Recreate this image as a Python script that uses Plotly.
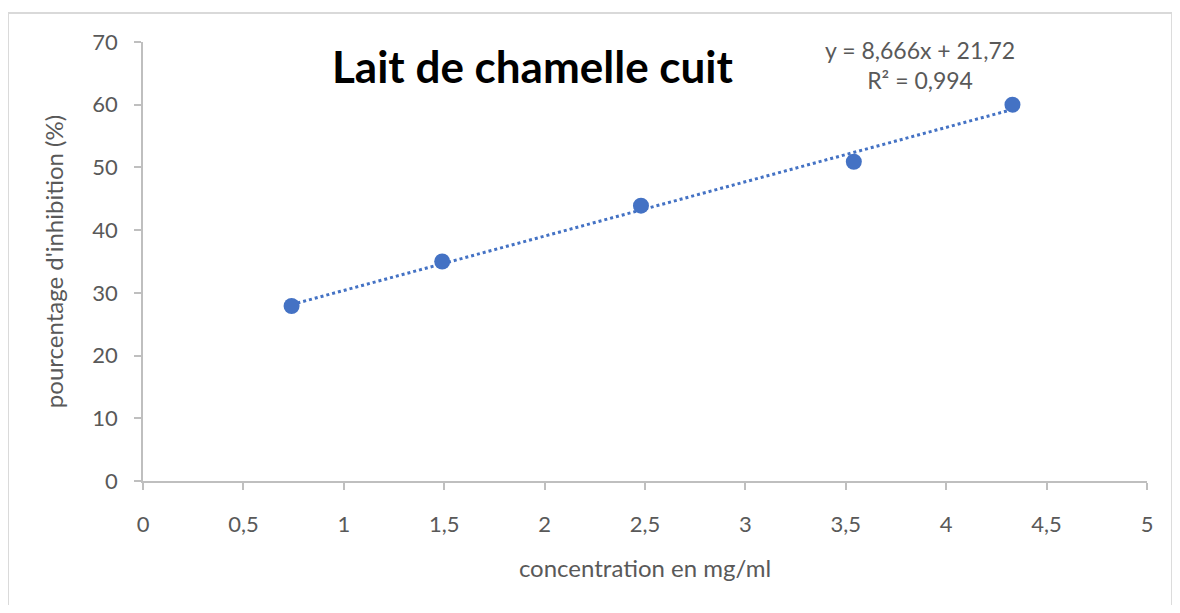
import plotly.graph_objects as go

# concentration (mg/ml) and inhibition (%)
concentration = [0.74, 1.49, 2.48, 3.54, 4.33]
inhibition = [27.9, 35.0, 43.9, 50.9, 60.0]

# linear trendline shown on the chart
slope = 8.666
intercept = 21.72
r2 = 0.994

x_ticks = [0, 0.5, 1, 1.5, 2, 2.5, 3, 3.5, 4, 4.5, 5]
x_tick_text = ["0", "0,5", "1", "1,5", "2", "2,5", "3", "3,5", "4", "4,5", "5"]
y_ticks = [0, 10, 20, 30, 40, 50, 60, 70]

blue = "#4472C4"
grey_text = "#595959"
axis_grey = "#BFBFBF"
font_family = "Lato, Open Sans, sans-serif"

trend_x = [min(concentration), max(concentration)]
trend_y = [slope * x + intercept for x in trend_x]

fig = go.Figure()
fig.add_trace(go.Scatter(
    x=trend_x, y=trend_y, mode="lines",
    line=dict(color=blue, width=3, dash="dot"),
    showlegend=False, hoverinfo="skip",
))
fig.add_trace(go.Scatter(
    x=concentration, y=inhibition, mode="markers",
    marker=dict(color=blue, size=16),
    showlegend=False,
))

fig.update_xaxes(
    range=[0, 5], tickvals=x_ticks, ticktext=x_tick_text,
    showline=True, linecolor=axis_grey, linewidth=1.5,
    ticks="outside", tickcolor=axis_grey, ticklen=7, tickwidth=1.5,
    ticklabelstandoff=16,
    showgrid=False, zeroline=False,
    tickfont=dict(size=22, color=grey_text, family=font_family),
    title=dict(text="concentration en mg/ml", standoff=24,
               font=dict(size=24, color=grey_text, family=font_family)),
)
fig.update_yaxes(
    range=[0, 70], tickvals=y_ticks,
    showline=True, linecolor=axis_grey, linewidth=1.5,
    ticks="outside", tickcolor=axis_grey, ticklen=7, tickwidth=1.5,
    ticklabelstandoff=12,
    showgrid=False, zeroline=False,
    tickfont=dict(size=22, color=grey_text, family=font_family),
    title=dict(text="pourcentage d'inhibition (%)", standoff=22,
               font=dict(size=24, color=grey_text, family=font_family)),
)

fig.add_annotation(
    x=0.388, y=66.2, xref="paper", yref="y",
    text="<b>Lait de chamelle cuit</b>", showarrow=False,
    font=dict(size=44, color="black", family=font_family),
)
fig.add_annotation(
    x=3.87, y=66.3, xref="x", yref="y",
    text=f"y = {slope:.3f}x + {intercept:.2f}".replace(".", ",")
         + "<br>R² = " + f"{r2:.3f}".replace(".", ","),
    showarrow=False, align="center",
    font=dict(size=23, color=grey_text, family=font_family),
)

# outer chart border
fig.add_shape(
    type="rect", xref="paper", yref="paper",
    x0=-0.1345, x1=1.025, y0=-0.40, y1=1.066,
    line=dict(color="#D9D9D9", width=2),
)

fig.update_layout(
    width=1164, height=597,
    margin=dict(l=135, r=25, t=34, b=124),
    paper_bgcolor="white", plot_bgcolor="white",
    font=dict(family=font_family),
)

fig.write_html("out.html")
